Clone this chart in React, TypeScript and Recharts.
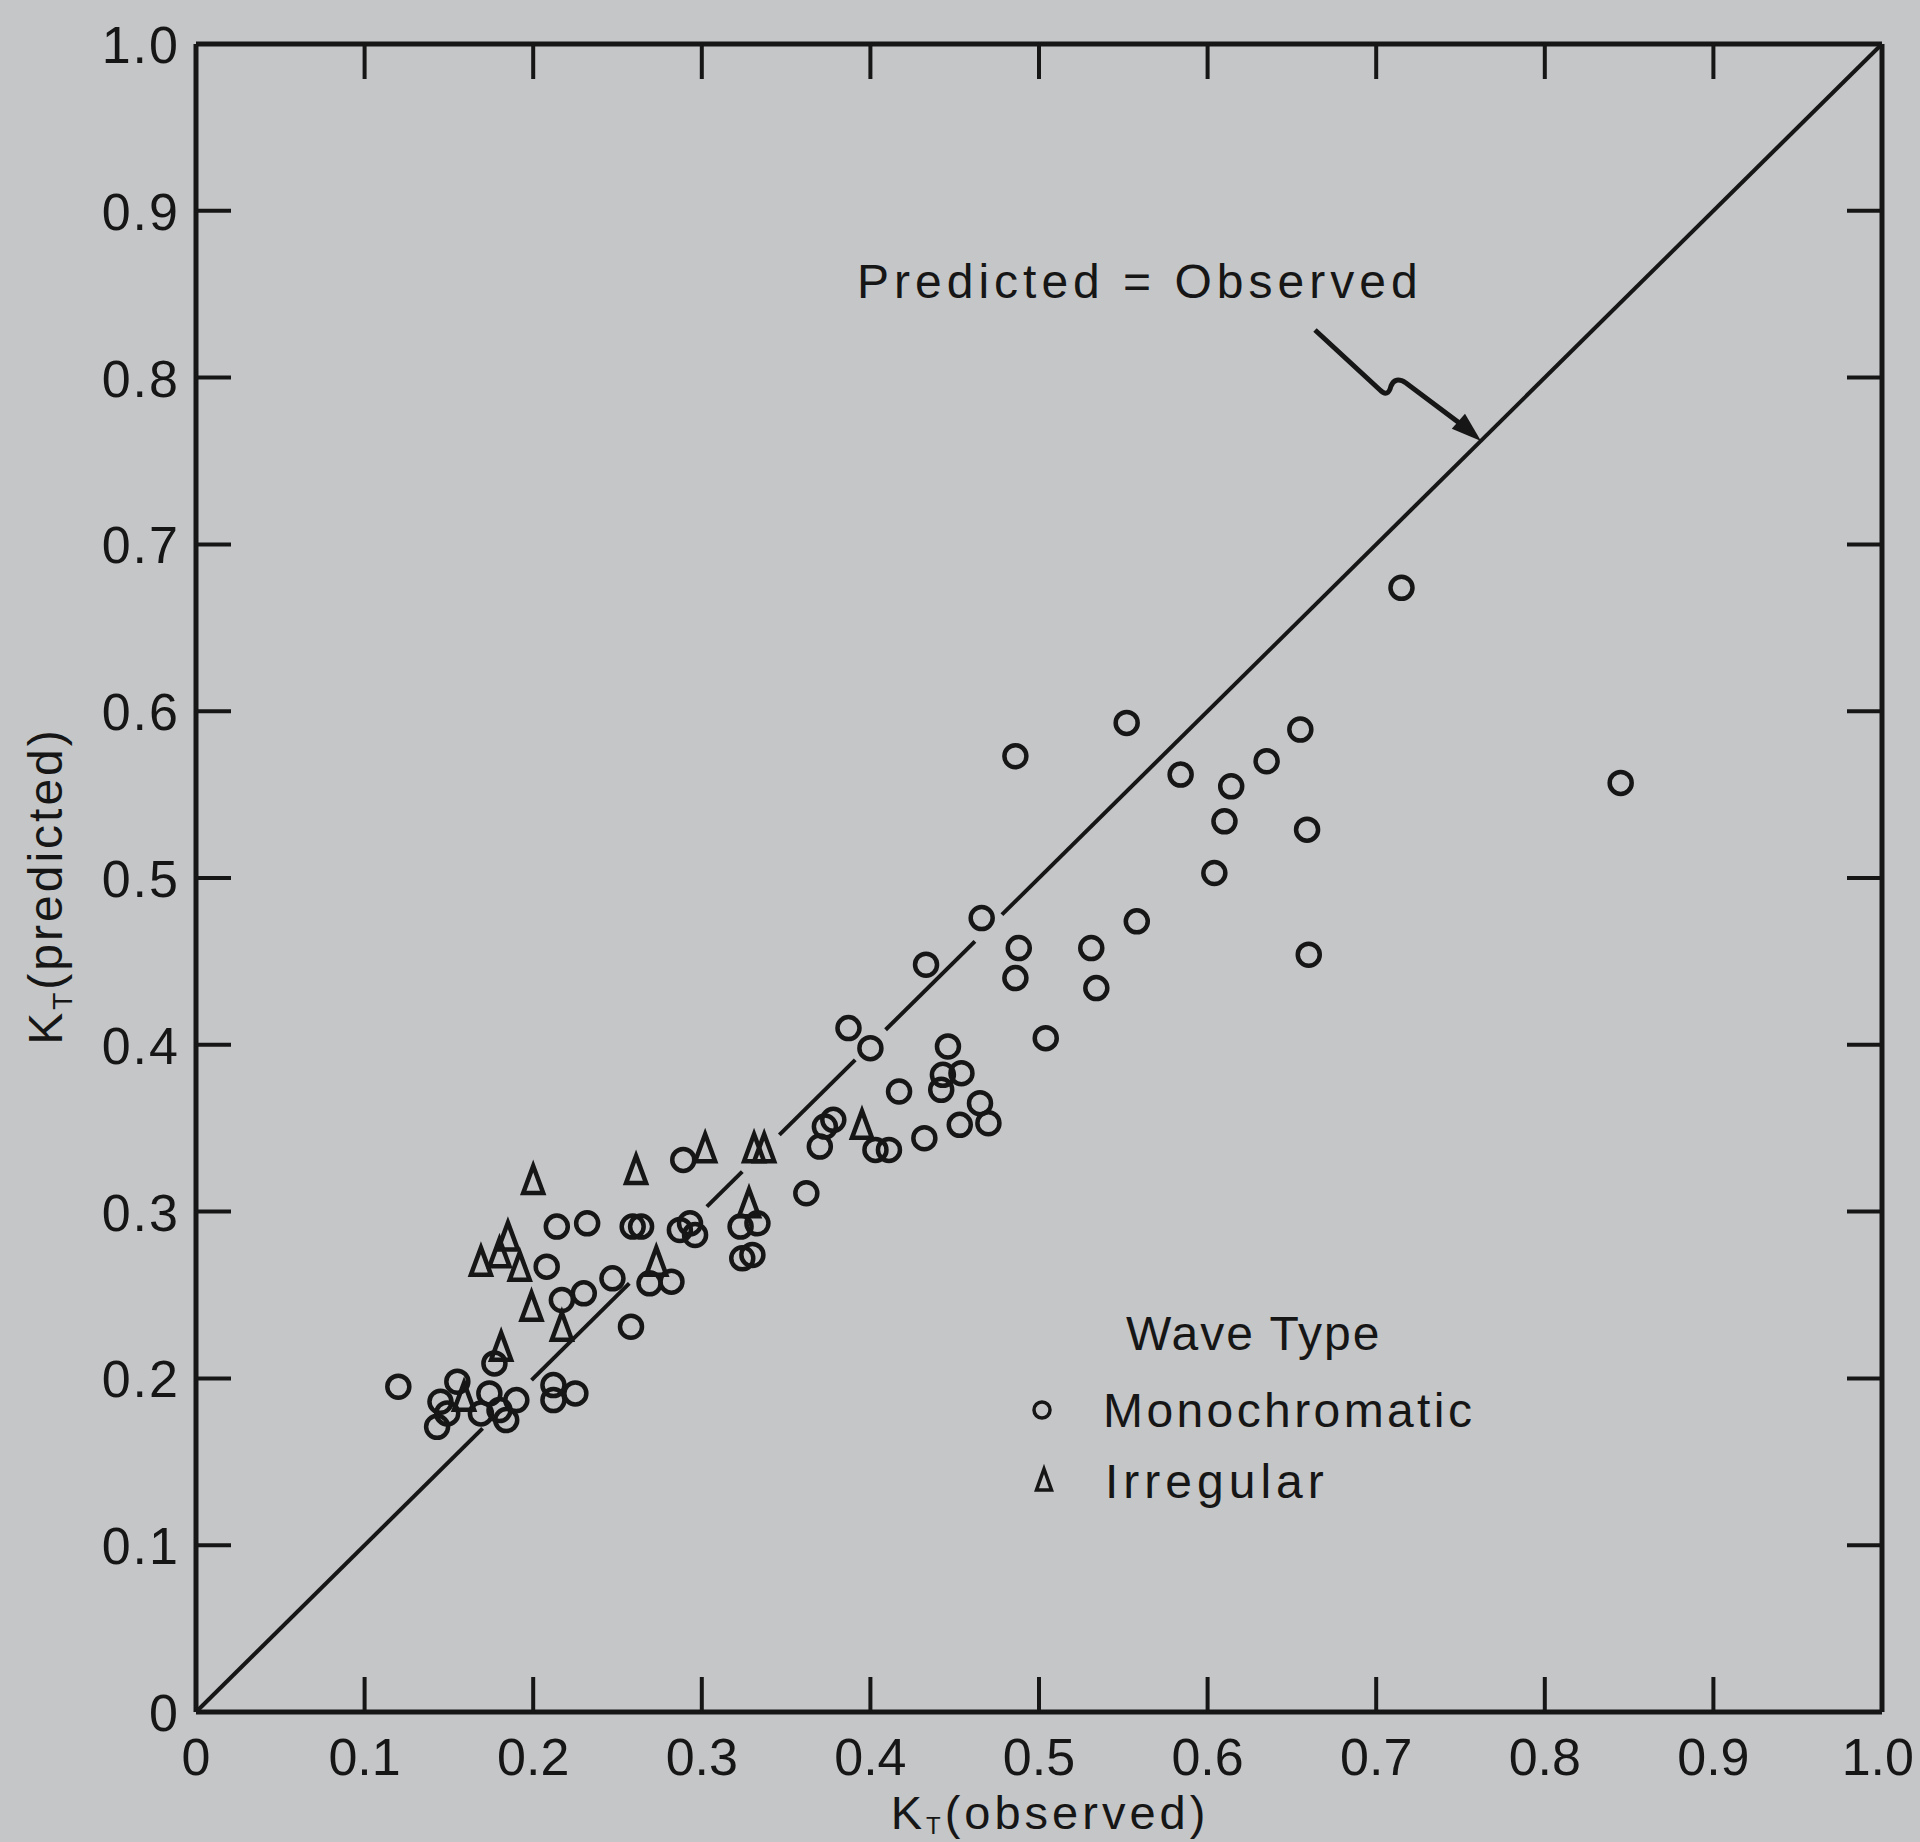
import { ScatterChart, Scatter, XAxis, YAxis, ReferenceLine } from "recharts";

// chart box, page is 1920 x 1842
const W = 1920;
const H = 1842;
const M = { top: 44, right: 38, bottom: 130, left: 196 };
const PW = W - M.left - M.right;
const INK = "#161616";
const PAPER = "#c5c6c8";
const FONT = "'Liberation Sans', Arial, sans-serif";

const tickValues = [0, 0.1, 0.2, 0.3, 0.4, 0.5, 0.6, 0.7, 0.8, 0.9, 1.0];
const tickLabels = ["0", "0.1", "0.2", "0.3", "0.4", "0.5", "0.6", "0.7", "0.8", "0.9", "1.0"];

// [K_T observed, K_T predicted]
const monochromatic: [number, number][] = [
  [0.715, 0.674], [0.845, 0.557], [0.552, 0.593], [0.486, 0.573], [0.584, 0.562],
  [0.614, 0.555], [0.635, 0.570], [0.655, 0.589], [0.610, 0.534], [0.659, 0.529],
  [0.604, 0.503], [0.558, 0.474], [0.660, 0.454], [0.466, 0.476], [0.488, 0.458],
  [0.486, 0.440], [0.531, 0.458], [0.534, 0.434], [0.504, 0.404], [0.433, 0.448],
  [0.387, 0.410], [0.400, 0.398], [0.446, 0.399], [0.443, 0.382], [0.454, 0.383],
  [0.442, 0.373], [0.417, 0.372], [0.465, 0.365], [0.470, 0.353], [0.453, 0.352],
  [0.432, 0.344], [0.403, 0.337], [0.411, 0.337], [0.373, 0.351], [0.378, 0.355],
  [0.370, 0.339], [0.362, 0.311], [0.289, 0.331], [0.323, 0.291], [0.333, 0.293],
  [0.324, 0.272], [0.330, 0.274], [0.287, 0.289], [0.293, 0.293], [0.296, 0.286],
  [0.259, 0.291], [0.264, 0.291], [0.214, 0.291], [0.232, 0.293], [0.208, 0.267],
  [0.247, 0.260], [0.230, 0.251], [0.217, 0.247], [0.269, 0.257], [0.282, 0.258],
  [0.258, 0.231], [0.177, 0.209], [0.120, 0.195], [0.155, 0.198], [0.145, 0.186],
  [0.143, 0.171], [0.149, 0.179], [0.174, 0.191], [0.169, 0.179], [0.180, 0.181],
  [0.184, 0.175], [0.190, 0.187], [0.212, 0.196], [0.212, 0.187], [0.225, 0.191],
];

const irregular: [number, number][] = [
  [0.200, 0.319], [0.261, 0.325], [0.302, 0.338], [0.331, 0.338], [0.337, 0.338],
  [0.395, 0.352], [0.185, 0.285], [0.180, 0.275], [0.169, 0.270], [0.192, 0.267],
  [0.199, 0.243], [0.217, 0.231], [0.328, 0.305], [0.181, 0.219], [0.159, 0.189],
  [0.273, 0.270],
];

// the 1:1 line is broken where it runs through the points
const diagonalPieces: [number, number][] = [
  [0, 0.170], [0.199, 0.257], [0.303, 0.324], [0.346, 0.391], [0.409, 0.462], [0.478, 1.0],
];

const toRows = (pts: [number, number][]) => pts.map(([x, y]) => ({ x, y }));
const labelFor = (v: number) => tickLabels[tickValues.findIndex((t) => Math.abs(t - v) < 1e-6)] ?? "";

const BottomTick = (props: any) => {
  const { x, y, payload } = props;
  const last = payload.value >= 1;
  return (
    <g>
      <line x1={x} y1={y} x2={x} y2={y - 35} stroke={INK} strokeWidth={4} />
      <line x1={x} y1={M.top} x2={x} y2={M.top + 35} stroke={INK} strokeWidth={4} />
      <text
        x={last ? W - 6 : x}
        y={y + 63}
        textAnchor={last ? "end" : "middle"}
        fontSize={52}
        fontFamily={FONT}
        fill={INK}
      >
        {labelFor(payload.value)}
      </text>
    </g>
  );
};

const LeftTick = (props: any) => {
  const { x, y, payload } = props;
  return (
    <g>
      <line x1={x} y1={y} x2={x + 35} y2={y} stroke={INK} strokeWidth={4} />
      <line x1={M.left + PW} y1={y} x2={M.left + PW - 35} y2={y} stroke={INK} strokeWidth={4} />
      <text x={x - 16} y={y + 19} textAnchor="end" fontSize={52} letterSpacing={2} fontFamily={FONT} fill={INK}>
        {labelFor(payload.value)}
      </text>
    </g>
  );
};

const Ring = (props: any) => (
  <circle cx={props.cx} cy={props.cy} r={11} fill="none" stroke={INK} strokeWidth={4.5} />
);

const Tri = (props: any) => {
  const { cx, cy } = props;
  return (
    <path
      d={`M${cx},${cy - 14} L${cx + 10},${cy + 13} L${cx - 10},${cy + 13} Z`}
      fill="none"
      stroke={INK}
      strokeWidth={4.5}
    />
  );
};

function Notes() {
  const txt = { fontFamily: FONT, fill: INK, letterSpacing: 4 } as const;
  return (
    <svg width={W} height={H} style={{ position: "absolute", left: 0, top: 0, pointerEvents: "none" }}>
      <text x={857} y={298} fontSize={48} {...txt} letterSpacing={5}>Predicted = Observed</text>
      <path
        d="M1315,330 L1380,390 Q1388,398 1391,386 Q1395,376 1406,383 L1462,425"
        fill="none"
        stroke={INK}
        strokeWidth={5}
      />
      <path d="M1481,441 L1451.8,428.7 L1465,413.7 Z" fill={INK} />

      {/* legend */}
      <text x={1126} y={1350} fontSize={48} {...txt} letterSpacing={2}>Wave Type</text>
      <circle cx={1042} cy={1410} r={8} fill="none" stroke={INK} strokeWidth={3.5} />
      <text x={1103} y={1427} fontSize={48} {...txt} letterSpacing={3.4}>Monochromatic</text>
      <path d="M1044,1469 L1051.5,1490 L1036.5,1490 Z" fill="none" stroke={INK} strokeWidth={3.5} />
      <text x={1105} y={1498} fontSize={48} {...txt} letterSpacing={5}>Irregular</text>

      {/* axis titles */}
      <text x={1050} y={1829} fontSize={47} textAnchor="middle" {...txt}>
        K<tspan fontSize={24} dy={5}>T</tspan>
        <tspan dy={-5}>(observed)</tspan>
      </text>
      <text transform="translate(62,886) rotate(-90)" fontSize={48} textAnchor="middle" {...txt} letterSpacing={3}>
        K<tspan fontSize={28} dy={10}>T</tspan>
        <tspan dy={-10}>(predicted)</tspan>
      </text>
    </svg>
  );
}

export default function App() {
  return (
    <div style={{ position: "relative", width: W, height: H, background: PAPER }}>
      <style>{`body{margin:0;background:${PAPER}}`}</style>
      <ScatterChart width={W} height={H} margin={{ top: M.top, right: M.right, bottom: 0, left: 0 }}>
        <XAxis
          type="number"
          dataKey="x"
          domain={[0, 1]}
          ticks={tickValues}
          interval={0}
          height={M.bottom}
          tickSize={0}
          tickMargin={0}
          tickLine={false}
          axisLine={{ stroke: INK, strokeWidth: 5 }}
          tick={<BottomTick />}
          allowDataOverflow
        />
        <YAxis
          type="number"
          dataKey="y"
          domain={[0, 1]}
          ticks={tickValues}
          interval={0}
          width={M.left}
          tickSize={0}
          tickMargin={0}
          tickLine={false}
          axisLine={{ stroke: INK, strokeWidth: 5 }}
          tick={<LeftTick />}
          allowDataOverflow
        />
        <ReferenceLine y={1} stroke={INK} strokeWidth={5} ifOverflow="visible" />
        <ReferenceLine x={1} stroke={INK} strokeWidth={5} ifOverflow="visible" />
        {diagonalPieces.map(([a, b], i) => (
          <ReferenceLine
            key={`d${i}`}
            segment={[{ x: a, y: a }, { x: b, y: b }]}
            stroke={INK}
            strokeWidth={4}
            ifOverflow="visible"
          />
        ))}
        <Scatter name="Monochromatic" data={toRows(monochromatic)} shape={<Ring />} isAnimationActive={false} />
        <Scatter name="Irregular" data={toRows(irregular)} shape={<Tri />} isAnimationActive={false} />
      </ScatterChart>
      <Notes />
    </div>
  );
}
